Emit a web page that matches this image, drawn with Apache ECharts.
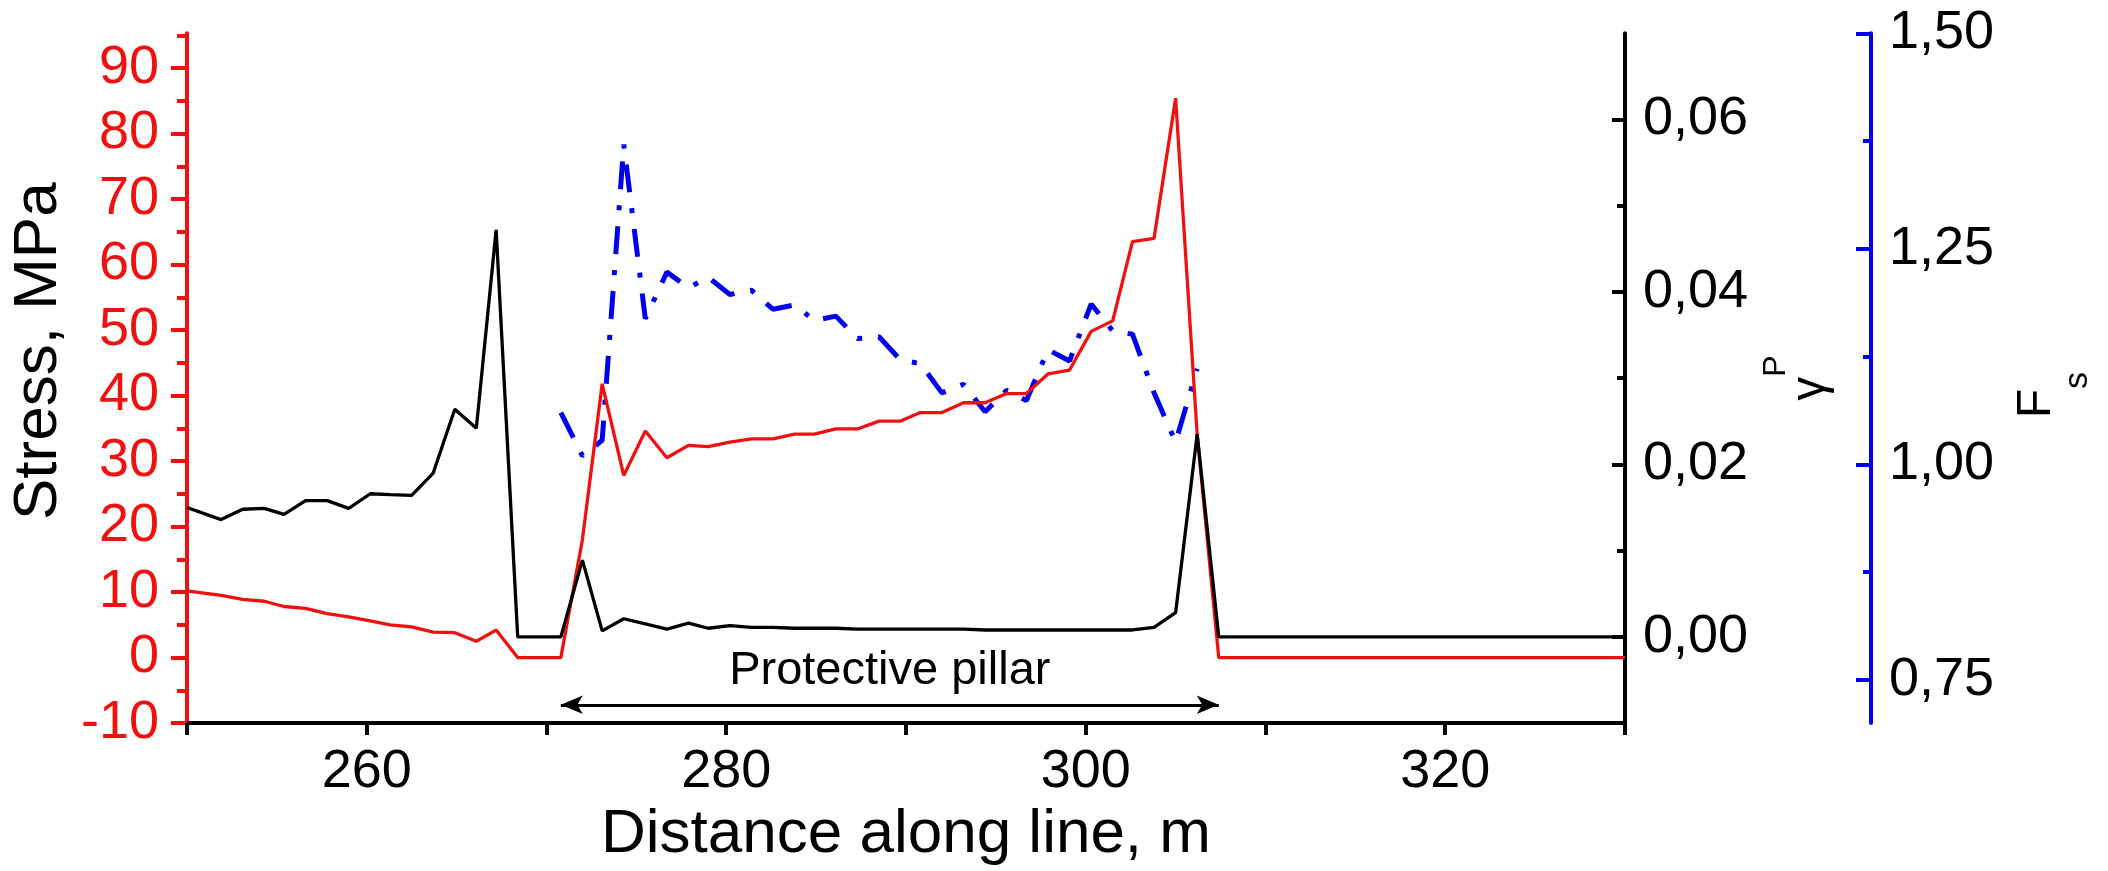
<!DOCTYPE html>
<html>
<head>
<meta charset="utf-8">
<script src="https://cdn.jsdelivr.net/npm/echarts@6/dist/echarts.min.js"></script>
<style>
html,body{margin:0;padding:0;background:#fff;}
#chart{width:2108px;height:871px;}
</style>
</head>
<body>
<div id="chart"></div>
<script>
// ---- data ----
const distance = [250.0, 251.9, 253.1, 254.3, 255.4, 256.6, 257.8, 259.0, 260.2, 261.3,
  262.5, 263.7, 264.9, 266.1, 267.2, 268.4, 269.6, 270.8, 272.0, 273.1,
  274.3, 275.5, 276.7, 277.9, 279.0, 280.2, 281.4, 282.6, 283.8, 284.9,
  286.1, 287.3, 288.5, 289.7, 290.8, 292.0, 293.2, 294.4, 295.6, 296.7,
  297.9, 299.1, 300.3, 301.5, 302.6, 303.8, 305.0, 306.2, 307.4, 330.0];

const stress = [10.2, 9.5, 8.9, 8.6, 7.8, 7.5, 6.7, 6.2, 5.6, 5.0,
  4.7, 3.9, 3.8, 2.5, 4.2, 0, 0, 0, 18.0, 41.8,
  27.8, 34.6, 30.5, 32.4, 32.2, 32.9, 33.4, 33.4, 34.1, 34.1,
  34.9, 34.9, 36.1, 36.1, 37.4, 37.4, 38.9, 38.9, 40.3, 40.3,
  43.3, 43.9, 49.8, 51.4, 63.5, 64.0, 85.4, 34.0, 0, 0];

const plasticStrain = [0.0150, 0.0136, 0.0148, 0.0149, 0.0142, 0.0158, 0.0158, 0.0149, 0.0166, 0.0165,
  0.0164, 0.0190, 0.0264, 0.0242, 0.0472, 0, 0, 0, 0.0089, 0.0007,
  0.0021, 0.0015, 0.0009, 0.0016, 0.0010, 0.0013, 0.0011, 0.0011, 0.0010, 0.0010,
  0.0010, 0.0009, 0.0009, 0.0009, 0.0009, 0.0009, 0.0009, 0.0008, 0.0008, 0.0008,
  0.0008, 0.0008, 0.0008, 0.0008, 0.0008, 0.0011, 0.0028, 0.0235, 0, 0];

const safetyFactor = [null, null, null, null, null, null, null, null, null, null,
  null, null, null, null, null, null, null, 1.060, 1.010, 1.028,
  1.371, 1.169, 1.223, 1.205, 1.217, 1.197, 1.202, 1.180, 1.185, 1.167,
  1.172, 1.146, 1.148, 1.121, 1.117, 1.083, 1.093, 1.061, 1.086, 1.074,
  1.133, 1.120, 1.186, 1.155, 1.151, 1.083, 1.026, 1.111, null, null];

const xTicks = [250, 260, 270, 280, 290, 300, 310, 320, 330];
const xLabels = [260, 280, 300, 320];
const stressTicks = [-10, 0, 10, 20, 30, 40, 50, 60, 70, 80, 90];
const stressMinorTicks = [-5, 5, 15, 25, 35, 45, 55, 65, 75, 85, 95];
const strainTicks = [0, 0.02, 0.04, 0.06];
const strainMinorTicks = [0.01, 0.03, 0.05];
const fsTicks = [0.75, 1.0, 1.25, 1.5];
const fsMinorTicks = [0.875, 1.125, 1.375];

const pillarStart = 270.8;
const pillarEnd = 307.4;
const pillarArrowLevel = -7.2;
const pillarText = 'Protective pillar';

// ---- styling ----
const RED = '#f01010';
const BLUE = '#0000ee';
const BLACK = '#000000';
const FONT = '"Liberation Sans", Arial, Helvetica, sans-serif';
const TICK_FONT = 54;
const comma = v => Number(v).toFixed(2).replace('.', ',');

const chart = echarts.init(document.getElementById('chart'), null, {renderer: 'canvas'});

function minorAxis(base, ticks, color, len, inside) {
  return Object.assign({}, base, {
    name: '',
    axisLine: {show: false},
    axisLabel: {show: false},
    splitLine: {show: false},
    axisTick: {show: true, inside: inside, length: len, lineStyle: {color: color, width: 4}, customValues: ticks}
  });
}

const redAxis = {
  type: 'value', position: 'left', min: -10, max: 95.3,
  axisLine: {show: true, onZero: false, lineStyle: {color: RED, width: 4}},
  axisTick: {show: true, inside: false, length: 16, lineStyle: {color: RED, width: 4}, customValues: stressTicks},
  axisLabel: {color: RED, fontSize: TICK_FONT, fontFamily: FONT, margin: 28, customValues: stressTicks},
  splitLine: {show: false},
  name: 'Stress, MPa', nameLocation: 'middle', nameGap: 108,
  nameTextStyle: {color: BLACK, fontSize: 62, fontFamily: FONT, padding: [0, 0, 0, 54]}
};
const strainAxis = {
  type: 'value', position: 'right', offset: 0, min: -0.01, max: 0.07,
  axisLine: {show: true, onZero: false, lineStyle: {color: BLACK, width: 4}},
  axisTick: {show: true, inside: true, length: 13, lineStyle: {color: BLACK, width: 4}, customValues: strainTicks},
  axisLabel: {color: BLACK, fontSize: TICK_FONT, fontFamily: FONT, margin: 18, customValues: strainTicks, formatter: comma},
  splitLine: {show: false},
  name: '{z| }{g|γ}{p|P}', nameLocation: 'middle', nameRotate: 90, nameGap: 135,
  nameTextStyle: {color: BLACK, fontFamily: FONT, rich: {
    z: {fontSize: 1, lineHeight: 75},
    g: {fontSize: 48, lineHeight: 48, verticalAlign: 'bottom', fontFamily: FONT},
    p: {fontSize: 32, lineHeight: 32, verticalAlign: 'top', fontFamily: FONT}
  }}
};
const fsAxis = {
  type: 'value', position: 'right', offset: 246, min: 0.7, max: 1.5,
  axisLine: {show: true, onZero: false, lineStyle: {color: BLUE, width: 4}},
  axisTick: {show: true, inside: true, length: 15, lineStyle: {color: BLUE, width: 4}, customValues: fsTicks},
  axisLabel: {color: BLACK, fontSize: TICK_FONT, fontFamily: FONT, margin: 18, customValues: fsTicks, formatter: comma},
  splitLine: {show: false},
  name: '{z| }{f|F}{s|s}', nameLocation: 'middle', nameRotate: 90, nameGap: 142,
  nameTextStyle: {color: BLACK, fontFamily: FONT, padding: [0, 34, 0, 0], rich: {
    z: {fontSize: 1, lineHeight: 82},
    f: {fontSize: 48, lineHeight: 48, verticalAlign: 'top', fontFamily: FONT},
    s: {fontSize: 34, lineHeight: 34, verticalAlign: 'bottom', fontFamily: FONT}
  }}
};

const option = {
  animation: false,
  backgroundColor: '#ffffff',
  grid: {left: 186.5, right: 483, top: 33.3, bottom: 145.6, containLabel: false},
  xAxis: {
    type: 'value', min: 250, max: 330,
    axisLine: {show: true, onZero: false, lineStyle: {color: BLACK, width: 4}},
    axisTick: {show: true, inside: false, length: 12, lineStyle: {color: BLACK, width: 4}, customValues: xTicks},
    axisLabel: {color: BLACK, fontSize: TICK_FONT, fontFamily: FONT, margin: 22, customValues: xLabels},
    splitLine: {show: false},
    name: 'Distance along line, m', nameLocation: 'middle', nameGap: 76,
    nameTextStyle: {color: BLACK, fontSize: 62, fontFamily: FONT}
  },
  yAxis: [
    redAxis,
    minorAxis(redAxis, stressMinorTicks, RED, 10, false),
    strainAxis,
    minorAxis(strainAxis, strainMinorTicks, BLACK, 8, true),
    fsAxis,
    minorAxis(fsAxis, fsMinorTicks, BLUE, 8, true)
  ],
  series: [
    {
      name: 'Fs', type: 'line', yAxisIndex: 4, z: 2, showSymbol: false, silent: true,
      data: distance.map((d, i) => [d, safetyFactor[i]]).filter(p => p[1] !== null),
      lineStyle: {color: BLUE, width: 5, type: [28, 16, 5, 16]}
    },
    {
      name: 'Stress', type: 'line', yAxisIndex: 0, z: 3, showSymbol: false, silent: true,
      data: distance.map((d, i) => [d, stress[i]]),
      lineStyle: {color: RED, width: 3.3},
      markLine: {
        silent: true, animation: false,
        symbol: ['arrow', 'arrow'], symbolSize: [14, 22],
        lineStyle: {color: BLACK, width: 3, type: 'solid'},
        label: {show: true, position: 'insideMiddleTop', distance: 10, formatter: pillarText,
                color: BLACK, fontSize: 47, fontFamily: FONT},
        data: [[{coord: [pillarStart, pillarArrowLevel]}, {coord: [pillarEnd, pillarArrowLevel]}]]
      }
    },
    {
      name: 'Plastic strain', type: 'line', yAxisIndex: 2, z: 4, showSymbol: false, silent: true,
      data: distance.map((d, i) => [d, plasticStrain[i]]),
      lineStyle: {color: BLACK, width: 3.3}
    }
  ]
};
chart.setOption(option);
</script>
</body>
</html>
